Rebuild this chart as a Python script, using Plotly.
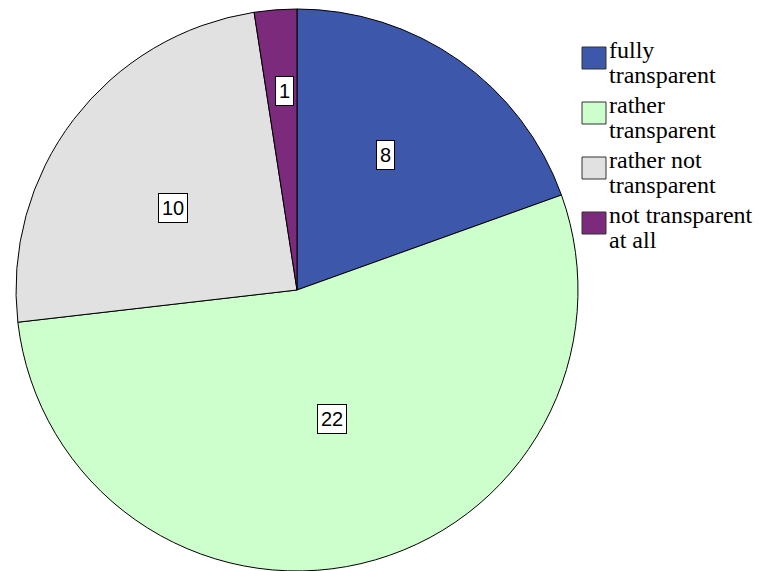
import math
import plotly.graph_objects as go

categories = ["fully transparent", "rather transparent", "rather not transparent", "not transparent at all"]
legend_lines = [["fully", "transparent"], ["rather", "transparent"], ["rather not", "transparent"], ["not transparent", "at all"]]
values = [8, 22, 10, 1]
colors = ["#3D57AA", "#CCFFCC", "#E1E1E1", "#7B2A7C"]

W, H = 762, 571
R = 281            # pie radius px
CX, CY = 297, 290  # pie centre px (from top-left)
label_r = [0.574, 0.474, 0.53, 0.71]
label_shift = [-1.9, -2.0, -3.7, 0.9]  # degrees

fig = go.Figure(go.Pie(
    labels=categories, values=values, sort=False, direction="clockwise", rotation=0,
    marker=dict(colors=colors, line=dict(color="black", width=1)),
    textinfo="none", hoverinfo="label+value", showlegend=False,
    domain=dict(x=[(CX - R) / W, (CX + R) / W], y=[(H - CY - R) / H, (H - CY + R) / H]),
))

annotations = []
shapes = []
total = sum(values)
cum = 0
for v, fr, sh in zip(values, label_r, label_shift):
    mid = (cum + v / 2) / total * 2 * math.pi + math.radians(sh)
    cum += v
    px = CX + fr * R * math.sin(mid)
    py = CY - fr * R * math.cos(mid)
    annotations.append(dict(
        x=px / W, y=1 - py / H, xref="paper", yref="paper", text=str(v), showarrow=False,
        xanchor="center", yanchor="middle",
        font=dict(family="Liberation Sans", size=20, color="black"),
        bgcolor="white", bordercolor="black", borderwidth=1, borderpad=3,
    ))

# legend drawn manually
LX0, LX1 = 582, 606
TX = 607
top0, step = 47, 55
for i, (lines, col) in enumerate(zip(legend_lines, colors)):
    t = top0 + i * step
    shapes.append(dict(type="rect", xref="paper", yref="paper",
                       x0=LX0 / W, x1=LX1 / W, y0=1 - t / H, y1=1 - (t + 22) / H,
                       fillcolor=col, line=dict(color="#333333", width=1)))
    for j, ln in enumerate(lines):
        base = t + 11 + j * 25
        annotations.append(dict(
            x=TX / W, y=1 - (base - 8) / H, xref="paper", yref="paper", text=ln,
            showarrow=False, xanchor="left", yanchor="middle",
            font=dict(family="'Times New Roman', 'Liberation Serif', Tinos, serif", size=24, color="black"),
        ))

fig.update_layout(
    width=W, height=H, margin=dict(l=0, r=0, t=0, b=0),
    paper_bgcolor="white", plot_bgcolor="white",
    annotations=annotations, shapes=shapes,
)

fig.write_html("out.html", config={"displayModeBar": False},
               post_script="document.body.style.margin='0';")
